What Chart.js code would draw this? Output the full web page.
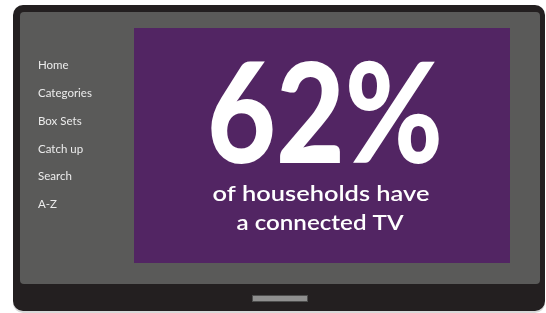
<!DOCTYPE html>
<html>
<head>
<meta charset="utf-8">
<script src="https://cdn.jsdelivr.net/npm/chart.js@4.4.1/dist/chart.umd.min.js"></script>
<style>
  html, body { margin: 0; padding: 0; background: #ffffff; }
  canvas { display: block; }
</style>
</head>
<body>
<canvas id="tvChart" width="546" height="313"></canvas>
<script>
// data
const menuItems = ['Home', 'Categories', 'Box Sets', 'Catch up', 'Search', 'A-Z'];
const connectedShare = 62;
const statLines = ['of households have', 'a connected TV'];

function roundRect(ctx, x, y, w, h, r) {
    ctx.beginPath();
    ctx.moveTo(x + r, y);
    ctx.arcTo(x + w, y, x + w, y + h, r);
    ctx.arcTo(x + w, y + h, x, y + h, r);
    ctx.arcTo(x, y + h, x, y, r);
    ctx.arcTo(x, y, x + w, y, r);
    ctx.closePath();
}

// draw text centred at cx, squeezed/stretched to a given width
function fitText(ctx, text, cx, y, width) {
    const w = ctx.measureText(text).width;
    ctx.save();
    ctx.translate(cx, y);
    ctx.scale(width / w, 1);
    ctx.textAlign = 'center';
    ctx.fillText(text, 0, 0);
    ctx.restore();
}

const tvFrame = {
    id: 'tvFrame',
    beforeDraw(chart) {
        const ctx = chart.ctx;
        const a = chart.chartArea;
        ctx.save();
        // shadow line under the set
        ctx.fillStyle = '#d9d9d9';
        roundRect(ctx, 13, 7, 532, 306, 10);
        ctx.fill();
        // bezel
        ctx.fillStyle = '#231f20';
        roundRect(ctx, 13, 5, 532, 306, 10);
        ctx.fill();
        // screen
        ctx.fillStyle = '#5a5a59';
        roundRect(ctx, 20, 12, 520, 272, 4);
        ctx.fill();
        // button
        ctx.fillStyle = '#8f8f8f';
        ctx.fillRect(252, 295, 56, 7);
        ctx.strokeStyle = '#4d4d4d';
        ctx.lineWidth = 1;
        ctx.strokeRect(252.5, 295.5, 55, 6);
        // purple panel = chart area
        ctx.fillStyle = '#522563';
        ctx.fillRect(a.left, a.top, a.right - a.left, a.bottom - a.top);
        ctx.restore();
    },
    afterDraw(chart) {
        const ctx = chart.ctx;
        ctx.save();
        ctx.fillStyle = '#ffffff';
        ctx.textBaseline = 'alphabetic';
        ctx.font = '900 140px Lato';
        fitText(ctx, connectedShare + '%', 325, 163, 236);
        ctx.font = '600 21px Lato';
        fitText(ctx, statLines[0], 321, 201, 217);
        fitText(ctx, statLines[1], 320, 230, 167);
        ctx.restore();
    }
};

new Chart(document.getElementById('tvChart'), {
    type: 'scatter',
    data: { datasets: [{ data: [] }] },
    options: {
        responsive: false,
        animation: false,
        events: [],
        layout: { padding: { left: 38, top: 28, right: 36, bottom: 50 } },
        plugins: {
            legend: { display: false },
            tooltip: { enabled: false }
        },
        scales: {
            x: { display: false, min: 0, max: 1 },
            y: {
                reverse: true,
                min: -1.35,
                max: 7.1,
                grid: { display: false },
                border: { display: false },
                afterFit(scale) { scale.width = 96; },
                afterBuildTicks(scale) {
                    scale.ticks = menuItems.map((m, i) => ({ value: i }));
                },
                ticks: {
                    autoSkip: false,
                    crossAlign: 'far',
                    color: '#ececec',
                    font: { family: 'Lato', size: 11.5 },
                    callback: (v) => menuItems[v]
                }
            }
        }
    },
    plugins: [tvFrame]
});
</script>
</body>
</html>
